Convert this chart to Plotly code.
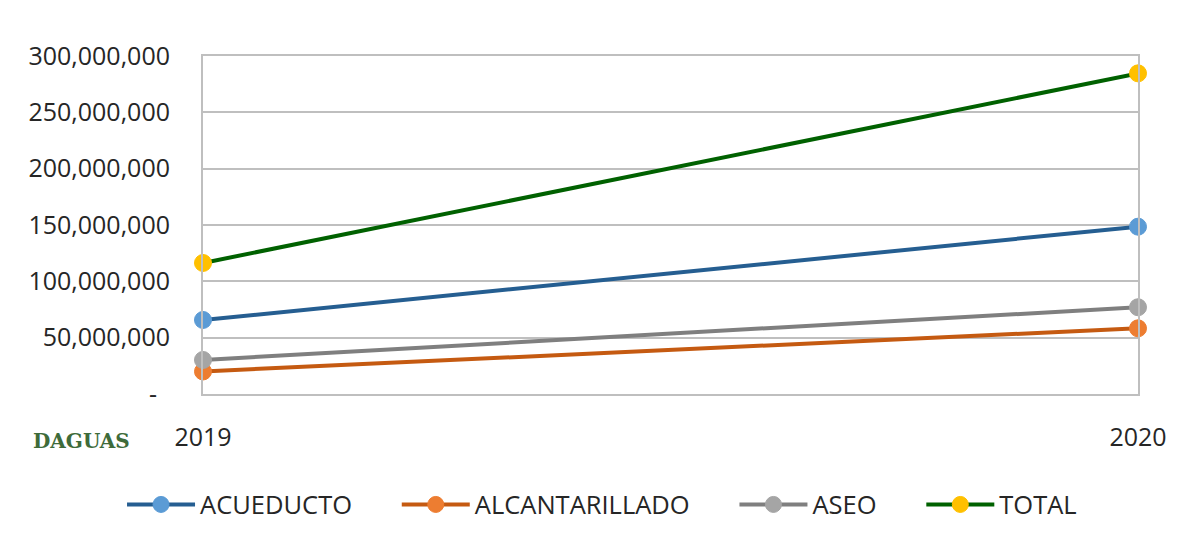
import plotly.graph_objects as go

years = ["2019", "2020"]
acueducto = [65.7e6, 148.5e6]
alcantarillado = [20.0e6, 58.3e6]
aseo = [30.2e6, 77.0e6]
total = [116.3e6, 284.6e6]

tick_vals = [0, 50e6, 100e6, 150e6, 200e6, 250e6, 300e6]
tick_text = ["-\u00a0\u00a0", "50,000,000", "100,000,000", "150,000,000", "200,000,000", "250,000,000", "300,000,000"]

series_names = ["ACUEDUCTO", "ALCANTARILLADO", "ASEO", "TOTAL"]
series_values = [acueducto, alcantarillado, aseo, total]
line_colors = ["#255E91", "#C55A11", "#7F7F7F", "#006100"]
marker_colors = ["#5B9BD5", "#ED7D31", "#A5A5A5", "#FFC000"]

PAD = "\u00a0" * 6

fig = go.Figure()
for i, (name, vals, lc, mc) in enumerate(zip(series_names, series_values, line_colors, marker_colors)):
    label = name + (PAD if i < len(series_names) - 1 else "")
    fig.add_trace(go.Scatter(
        x=years, y=vals, name=label, mode="lines+markers",
        line=dict(color=lc, width=4),
        marker=dict(color=mc, size=17, line=dict(color=mc, width=1)),
        cliponaxis=False,
    ))

font_family = "Open Sans, Liberation Sans, sans-serif"
fig.update_layout(
    width=1178, height=549,
    margin=dict(l=195, r=48, t=48, b=163),
    paper_bgcolor="white", plot_bgcolor="white",
    font=dict(family=font_family, size=25, color="#262626"),
    showlegend=True,
    legend=dict(
        orientation="h", xref="paper", yref="paper",
        x=-0.0866, xanchor="left", y=-0.328, yanchor="middle",
        font=dict(size=25.5, color="#262626"),
        itemwidth=68, traceorder="normal",
    ),
    xaxis=dict(
        type="category", range=[0, 1], showgrid=True, gridcolor="#BFBFBF", gridwidth=2,
        showline=True, linecolor="#BFBFBF", linewidth=2, mirror=True,
        ticks="", tickfont=dict(size=25, color="#262626"), ticklabelstandoff=20,
        zeroline=False, fixedrange=True,
    ),
    yaxis=dict(
        range=[0, 300e6], tickvals=tick_vals, ticktext=tick_text,
        showgrid=True, gridcolor="#BFBFBF", gridwidth=2,
        showline=True, linecolor="#BFBFBF", linewidth=2, mirror=True,
        ticks="", tickfont=dict(size=25, color="#262626"), ticklabelstandoff=26,
        zeroline=False, fixedrange=True,
    ),
    annotations=[dict(
        text="<b>DAGUAS</b>", xref="paper", yref="paper",
        x=-0.13, y=-0.14, xanchor="center", yanchor="middle", showarrow=False,
        font=dict(family="DejaVu Serif, serif", size=20, color="#3E6B3A"),
    )],
)

fig.write_html("out.html")
